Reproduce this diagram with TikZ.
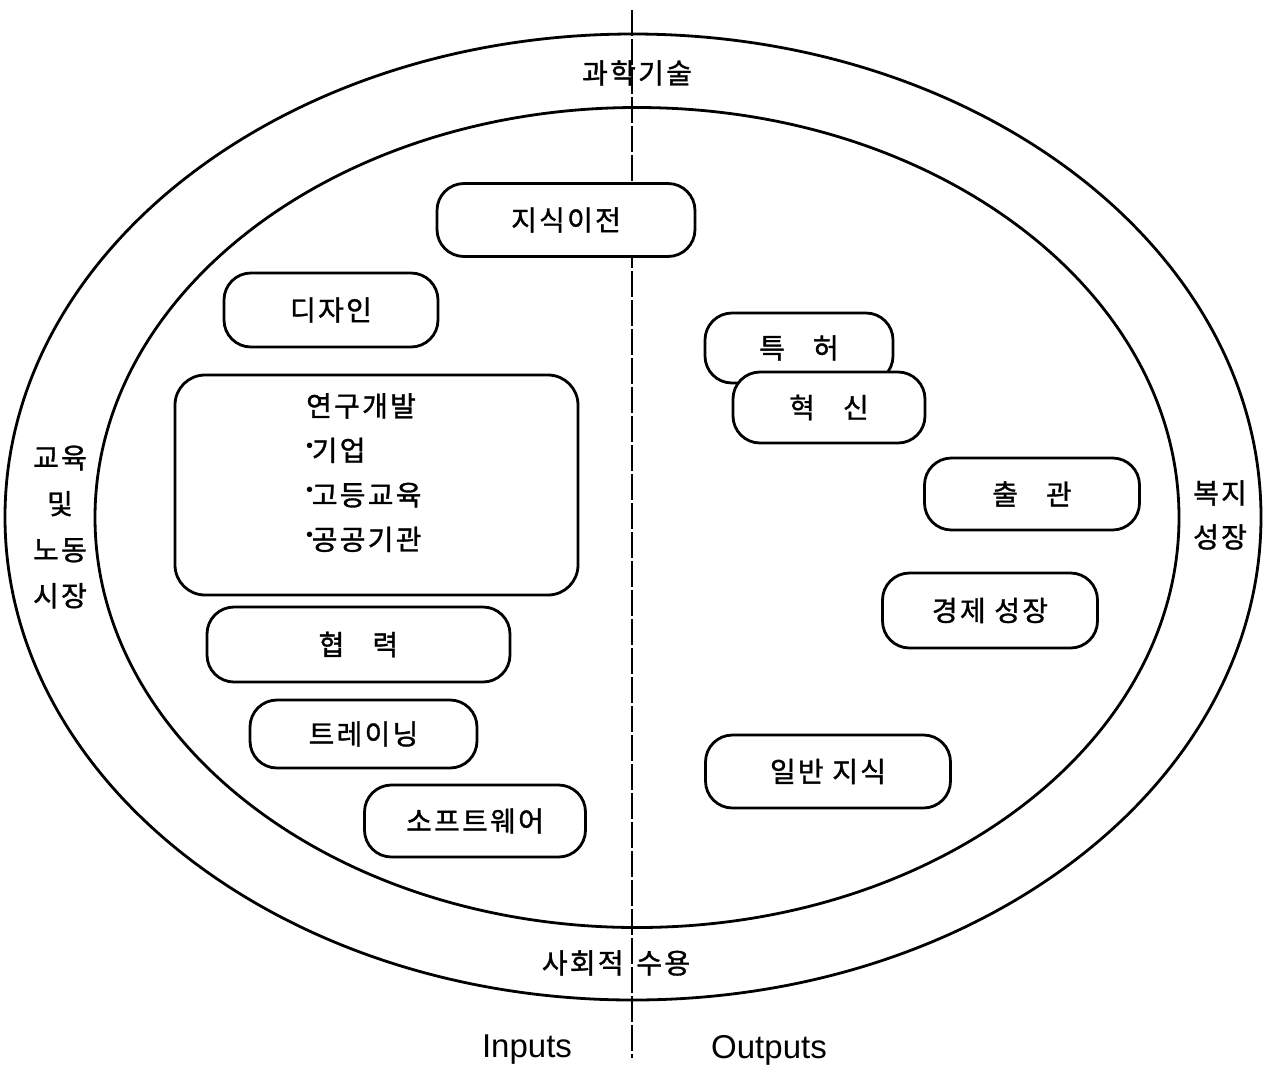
\documentclass[tikz,border=0pt]{standalone}
\usepackage{fontspec}
\setmainfont{Noto Sans CJK KR}[LetterSpace=8, FakeBold=1.2]
\newfontfamily\latinsans{Liberation Sans}
\begin{document}
\begin{tikzpicture}[x=1pt,y=-1pt,
  ln/.style={line width=2.8pt},
  pill/.style={draw, line width=2.8pt, fill=white, rounded corners=27pt, inner sep=0pt, font=\kor},
  lbl/.style={inner sep=0pt, font=\kor},
  divider/.style={line width=2.4pt, dash pattern=on 26pt off 3pt}]
\newcommand{\kor}{\fontsize{28}{34}\selectfont}
\newcommand{\bul}{\raisebox{0.3em}{\latinsans\fontsize{20}{20}\selectfont •}\hspace{-0.05em}}
\useasboundingbox (0,0) rectangle (1266,1072);
% rings
\draw[ln] (633,517) ellipse [x radius=628pt, y radius=483pt];
\draw[ln] (637,517.5) ellipse [x radius=542pt, y radius=410pt];
% divider
\coordinate (top) at (632,10);
\coordinate (bot) at (632,1058);
\draw[divider] (top) -- (bot);
% ring labels
\node[lbl] (sci) at (637,73) {과학기술};
\node[lbl] (soc) at (616,963) {사회적\hspace{0.15em} 수용};
\node[lbl, align=center, font=\fontsize{28}{46}\selectfont] (edu) at (60,527) {교육\\및\\노동\\시장};
\node[lbl, align=center, font=\fontsize{28}{44}\selectfont] (wel) at (1220,515) {복지\\성장};
% input boxes
\node[pill, minimum width=258pt, minimum height=73pt] (kt) at (566,220) {지식이전};
\node[pill, minimum width=214pt, minimum height=74pt] (des) at (331,310) {디자인};
\node[pill, minimum width=403pt, minimum height=220pt, rounded corners=30pt] (rnd) at (376.5,485) {};
\node[lbl, anchor=north west, align=left, font=\fontsize{28}{44.5}\selectfont] (rndt) at (306,393)
  {연구개발\\\bul 기업\\\bul 고등교육\\\bul 공공기관};
\node[pill, minimum width=303pt, minimum height=75pt] (col) at (358.5,644.5) {협\hspace{1em}력};
\node[pill, minimum width=227pt, minimum height=68pt] (trn) at (363.5,734) {트레이닝};
\node[pill, minimum width=221pt, minimum height=72pt] (sw) at (475,821) {소프트웨어};
% output boxes
\node[pill, minimum width=188pt, minimum height=70pt] (pat) at (799,348) {특\hspace{1em}허};
\node[pill, minimum width=192pt, minimum height=71pt] (inn) at (829,407.5) {혁\hspace{1em}신};
\node[pill, minimum width=215pt, minimum height=72pt] (pub) at (1032,494) {출\hspace{1em}관};
\node[pill, minimum width=215pt, minimum height=75pt] (eco) at (990,610.5) {경제 성장};
\node[pill, minimum width=245pt, minimum height=73pt] (gen) at (828,771.5) {일반 지식};
% bottom labels
\node[inner sep=0pt, font=\latinsans\fontsize{33}{36}\selectfont] (inp) at (527,1050) {Inputs};
\node[inner sep=0pt, font=\latinsans\fontsize{33}{36}\selectfont] (outp) at (769,1050) {Outputs};
\end{tikzpicture}
\end{document}
